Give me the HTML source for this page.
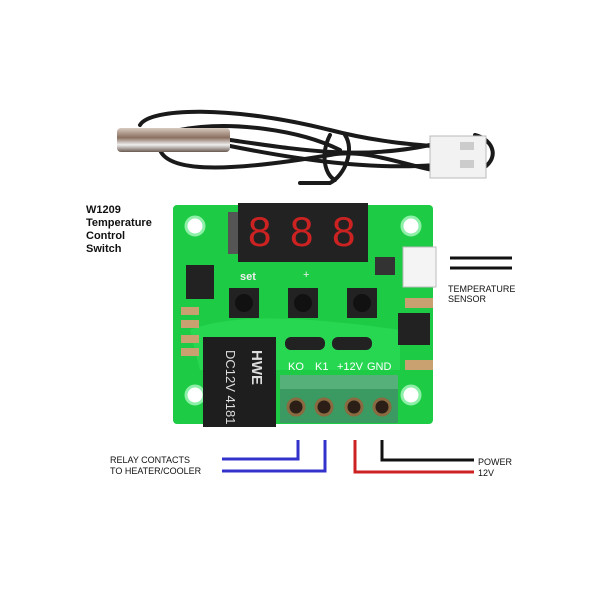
<!DOCTYPE html>
<html><head><style>
body{margin:0;background:#fff;width:600px;height:600px;overflow:hidden}
svg{display:block}
text{font-family:"Liberation Sans",sans-serif}
</style></head><body>
<svg width="600" height="600" viewBox="0 0 600 600">
<!-- cable -->
<g fill="none" stroke="#1a1a1a" stroke-width="4" stroke-linecap="round">
<path d="M140,125 C150,108 230,105 330,130 C400,148 450,145 470,150"/>
<path d="M230,140 C300,150 360,160 430,145"/>
<path d="M230,146 C300,160 370,170 435,165"/>
<path d="M160,150 C170,175 240,170 330,155 C380,145 440,185 480,170 C500,160 495,140 475,135"/>
<path d="M180,130 C230,120 300,130 340,150"/>
<path d="M330,135 C320,155 325,175 335,180"/>
<path d="M345,135 C355,150 345,175 330,183 L300,183"/>
</g>
<defs><linearGradient id="m" x1="0" y1="0" x2="0" y2="1">
<stop offset="0" stop-color="#d9cbc0"/><stop offset=".4" stop-color="#8a6f60"/><stop offset=".7" stop-color="#eee"/><stop offset="1" stop-color="#6a5a50"/></linearGradient></defs>
<rect x="117" y="128" width="113" height="24" rx="4" fill="url(#m)"/>
<rect x="430" y="136" width="56" height="42" fill="#f2f2f2" stroke="#bbb"/>
<rect x="460" y="142" width="14" height="8" fill="#ccc"/><rect x="460" y="160" width="14" height="8" fill="#ccc"/>
<!-- board -->
<rect x="173" y="205" width="260" height="219" rx="4" fill="#1ecb45"/>
<path d="M190,330 C240,310 330,320 400,330 L400,370 L200,370Z" fill="#2ee05a" opacity=".6"/>
<g fill="#fff" stroke="#8ef0a8" stroke-width="3">
<circle cx="195" cy="226" r="9"/><circle cx="411" cy="226" r="9"/><circle cx="195" cy="395" r="9"/><circle cx="411" cy="395" r="9"/></g>
<!-- display -->
<rect x="238" y="203" width="130" height="59" fill="#222"/>
<g font-size="42" fill="#c22" font-family="Liberation Mono"><text x="248" y="246">8</text><text x="290" y="246">8</text><text x="332" y="246">8</text></g>
<rect x="228" y="212" width="10" height="42" fill="#555"/>
<!-- IC -->
<rect x="186" y="265" width="28" height="34" fill="#222"/>
<!-- right connector -->
<rect x="403" y="247" width="33" height="40" fill="#f4f4f4" stroke="#bbb"/>
<rect x="375" y="257" width="20" height="18" fill="#333"/>
<rect x="405" y="298" width="28" height="10" fill="#c9a070"/>
<rect x="398" y="313" width="32" height="32" fill="#222"/>
<rect x="405" y="360" width="28" height="10" fill="#c9a070"/>
<!-- buttons -->
<g fill="#222"><rect x="229" y="288" width="30" height="30"/><rect x="288" y="288" width="30" height="30"/><rect x="347" y="288" width="30" height="30"/></g>
<g fill="#111"><circle cx="244" cy="303" r="9"/><circle cx="303" cy="303" r="9"/><circle cx="362" cy="303" r="9"/></g>
<text x="240" y="280" font-size="11" fill="#eee" font-weight="bold">set</text>
<text x="303" y="278" font-size="11" fill="#eee">+</text>
<rect x="285" y="337" width="40" height="13" rx="6" fill="#222"/><rect x="332" y="337" width="40" height="13" rx="6" fill="#222"/>
<g fill="#c9a070"><rect x="181" y="307" width="18" height="8"/><rect x="181" y="320" width="18" height="8"/><rect x="181" y="335" width="18" height="8"/><rect x="181" y="348" width="18" height="8"/></g>
<!-- relay -->
<rect x="203" y="337" width="73" height="90" fill="#1e1e1e"/>
<text transform="translate(226,350) rotate(90)" font-size="13" fill="#ddd">DC12V 4181</text>
<text transform="translate(252,350) rotate(90)" font-size="15" fill="#ddd" font-weight="bold">HWE</text>
<!-- terminal labels -->
<g font-size="11" fill="#fff"><text x="288" y="370">KO</text><text x="315" y="370">K1</text><text x="337" y="370">+12V</text><text x="367" y="370">GND</text></g>
<rect x="280" y="375" width="118" height="48" fill="#3a9a62"/>
<rect x="280" y="375" width="118" height="14" fill="#56b07a"/>
<g fill="#2a1e16" stroke="#8a6a40" stroke-width="3"><circle cx="296" cy="407" r="8"/><circle cx="324" cy="407" r="8"/><circle cx="354" cy="407" r="8"/><circle cx="382" cy="407" r="8"/></g>
<!-- wires -->
<g fill="none" stroke-width="3">
<path d="M298,440 V459 H222" stroke="#3333cc"/>
<path d="M325,440 V471 H222" stroke="#3333cc"/>
<path d="M355,440 V472 H474" stroke="#cc2222"/>
<path d="M382,440 V460 H474" stroke="#111"/>
<path d="M450,258 H512" stroke="#111"/>
<path d="M450,268 H512" stroke="#111"/>
</g>
<g font-size="9" fill="#111">
<text x="110" y="463">RELAY CONTACTS</text><text x="110" y="474">TO HEATER/COOLER</text>
<text x="478" y="465">POWER</text><text x="478" y="476">12V</text>
<text x="448" y="292">TEMPERATURE</text><text x="448" y="302">SENSOR</text>
</g>
<g font-size="11" font-weight="bold" fill="#111">
<text x="86" y="213">W1209</text><text x="86" y="226">Temperature</text><text x="86" y="239">Control</text><text x="86" y="252">Switch</text>
</g>
</svg>
</body></html>
